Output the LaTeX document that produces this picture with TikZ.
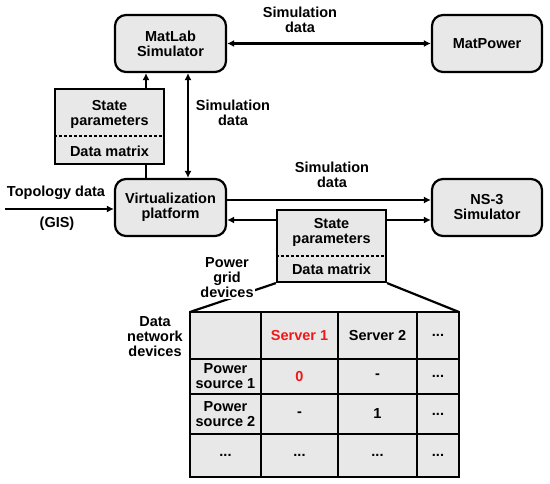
\documentclass[tikz,border=0pt]{standalone}
\usepackage{fontspec}
\setmainfont{Liberation Sans}
\usetikzlibrary{positioning, arrows.meta}
\definecolor{boxgray}{RGB}{232,232,232}
\definecolor{hired}{RGB}{240,24,24}

\begin{document}
\begin{tikzpicture}[x=1pt, y=-1pt, line width=2.2pt,
    every node/.style={font=\fontsize{14.5}{15}\selectfont\bfseries, align=center, inner sep=1pt},
    block/.style={draw, fill=boxgray, rounded corners=11pt, minimum width=111pt, minimum height=57pt},
    statebox/.style={draw, fill=boxgray, minimum width=109pt},
    cell/.style={draw, fill=boxgray, line width=2.5pt, anchor=north west, inner sep=0pt, outer sep=0pt},
    w1/.style={minimum width=71pt}, w2/.style={minimum width=77pt},
    w3/.style={minimum width=79pt}, w4/.style={minimum width=42pt},
    h1/.style={minimum height=47pt}, h2/.style={minimum height=35pt},
    h3/.style={minimum height=40pt}, h4/.style={minimum height=43pt},
    arr/.style={-{Latex[length=7pt, width=7pt]}},
    darr/.style={{Latex[length=7pt, width=7pt]}-{Latex[length=7pt, width=7pt]}},
    divider/.style={line width=1.3pt, dash pattern=on 3pt off 2pt}]

  \useasboundingbox (0,0) rectangle (550,484);

  % simulators and platform
  \node[block] (matlab) at (170.5,43.5) {MatLab\\Simulator};
  \node[block, minimum width=110pt] (matpower) at (487,43.5) {MatPower};
  \node[block] (virt) at (170.5,207.5) {Virtualization\\platform};
  \node[block, minimum width=110pt] (ns3) at (487,207.5) {NS-3\\Simulator};

  % state parameter boxes
  \node[statebox, minimum height=75pt] (st1) at (109.5,126.5) {};
  \node (sp1) at (109.5,114.5) {State\\parameters};
  \node (dm1) at (109.5,151) {Data matrix};
  \draw[divider] ([yshift=-48pt]st1.north west) -- ([yshift=-48pt]st1.north east);

  \node[statebox, minimum height=72pt] (st2) at (331.5,246) {};
  \node (sp2) at (331.5,232.5) {State\\parameters};
  \node (dm2) at (331.5,269.5) {Data matrix};
  \draw[divider] ([yshift=-47pt]st2.north west) -- ([yshift=-47pt]st2.north east);

  % connectors
  \coordinate (ca) at (146,0);
  \coordinate (cb) at (188,0);
  \coordinate (topo) at (5,209);
  \coordinate (lo) at (0,220);
  \draw[arr] (st1.north -| ca) -- (matlab.south -| ca);
  \draw (st1.south -| ca) -- (virt.north -| ca);
  \draw[darr] (matlab.south -| cb) -- (virt.north -| cb);
  \draw[darr] (matlab.east) -- (matpower.west);
  \draw[arr] (topo) -- (topo -| virt.west);
  \draw[arr] ([yshift=7.5pt]virt.east) -- ([yshift=7.5pt]ns3.west);
  \draw[arr] (st2.west |- lo) -- (virt.east |- lo);
  \draw[arr] (st2.east |- lo) -- (ns3.west |- lo);

  \node (sim1) at (300,20) {Simulation\\data};
  \node (sim2) at (233,113) {Simulation\\data};
  \node (sim3) at (332,175) {Simulation\\data};
  \node (topolbl) at (56,193) {Topology data};
  \node (gislbl) at (57,224) {(GIS)};

  % data matrix table
  \node[cell, w1, h1] (c11) at (190,312) {};
  \node[cell, w2, h1, text=hired] (c12) at (c11.north east) {Server 1};
  \node[cell, w3, h1] (c13) at (c12.north east) {Server 2};
  \node[cell, w4, h1] (c14) at (c13.north east) {...};
  \node[cell, w1, h2] (c21) at (c11.south west) {Power\\source 1};
  \node[cell, w2, h2, text=hired] (c22) at (c21.north east) {0};
  \node[cell, w3, h2] (c23) at (c22.north east) {-};
  \node[cell, w4, h2] (c24) at (c23.north east) {...};
  \node[cell, w1, h3] (c31) at (c21.south west) {Power\\source 2};
  \node[cell, w2, h3] (c32) at (c31.north east) {-};
  \node[cell, w3, h3] (c33) at (c32.north east) {1};
  \node[cell, w4, h3] (c34) at (c33.north east) {...};
  \node[cell, w1, h4] (c41) at (c31.south west) {...};
  \node[cell, w2, h4] (c42) at (c41.north east) {...};
  \node[cell, w3, h4] (c43) at (c42.north east) {...};
  \node[cell, w4, h4] (c44) at (c43.north east) {...};

  \draw (st2.south west) -- (c11.north west);
  \draw (st2.south east) -- (c14.north east);
  \node[fill=white] (pgd) at (227,278) {Power\\grid\\devices};
  \node (dnd) at (155,337) {Data\\network\\devices};
\end{tikzpicture}
\end{document}
